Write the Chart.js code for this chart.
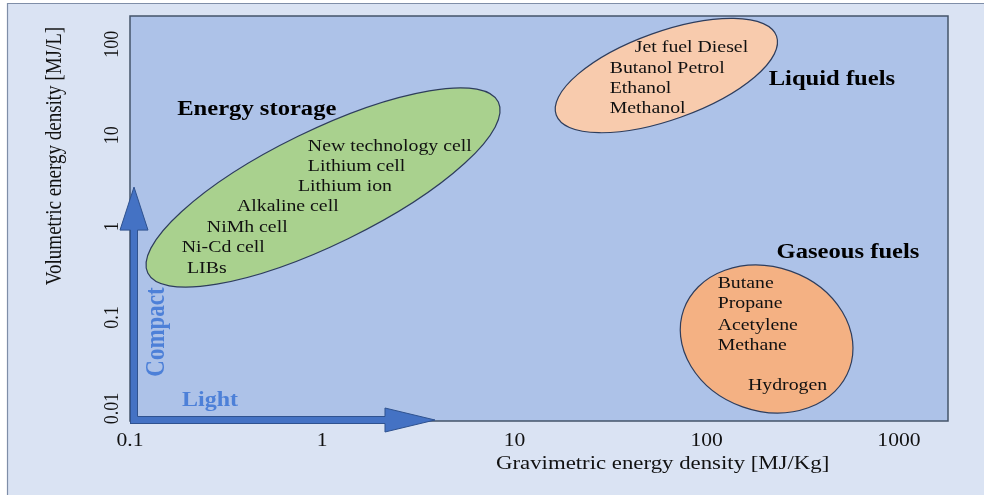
<!DOCTYPE html>
<html>
<head>
<meta charset="utf-8">
<script src="https://cdn.jsdelivr.net/npm/chart.js@4/dist/chart.umd.min.js"></script>
<style>
  html, body { margin: 0; padding: 0; background: #fff; }
  canvas { display: block; }
</style>
</head>
<body>
<canvas id="grafica" width="984" height="495"></canvas>
<script>
// ticks of the two log axes
const xTicks = [0.1, 1, 10, 100, 1000];
const yTicks = [0.01, 0.1, 1, 10, 100];

// groups: title anchor and ellipse centre, [MJ/Kg, MJ/L]
const groupNames = ['Energy storage', 'Liquid fuels', 'Gaseous fuels'];
const groupTitleAt = [[0.176, 18.9], [210, 40.5], [231, 0.514]];
const groupCentre = [[1.01, 2.67], [61.7, 45.3], [205, 0.058]];

// members of each group, anchored at [MJ/Kg, MJ/L]
const storageNames = ['New technology cell', 'Lithium cell', 'Lithium ion', 'Alkaline cell', 'NiMh cell', 'Ni-Cd cell', 'LIBs'];
const storageX = [0.842, 0.842, 0.747, 0.360, 0.251, 0.186, 0.198];
const storageY = [7.49, 4.52, 2.71, 1.63, 0.960, 0.579, 0.340];

const liquidNames = ['Jet fuel Diesel', 'Butanol Petrol', 'Ethanol', 'Methanol'];
const liquidX = [42.3, 31.3, 31.3, 31.3];
const liquidY = [92.5, 54.4, 32.2, 19.4];

const gasNames = ['Butane', 'Propane', 'Acetylene', 'Methane', 'Hydrogen'];
const gasX = [114, 114, 114, 114, 164];
const gasY = [0.233, 0.1405, 0.0812, 0.049, 0.0177];

// drawing styles
const SERIF = '"Liberation Serif", "Times New Roman", serif';
const STRETCH = 1.2;
const ellipseStyle = [
  { rx: 195, ry: 57, rot: -26, fill: '#a9d18e' },
  { rx: 117, ry: 44, rot: -19.7, fill: '#f8cbad' },
  { rx: 88, ry: 72, rot: 19.5, fill: '#f4b183' }
];
const arrowTip = { x: 3.86, y: 2.7 };

function pts(xs, ys) { return xs.map((x, i) => ({ x: x, y: ys[i] })); }

function txt(ctx, s, x, y, font, color, align, rotated) {
  ctx.save();
  ctx.translate(x, y);
  ctx.scale(STRETCH, 1);
  if (rotated) ctx.rotate(-Math.PI / 2);
  ctx.font = font;
  ctx.fillStyle = color;
  ctx.textAlign = align;
  ctx.textBaseline = 'middle';
  ctx.fillText(s, 0, 0);
  ctx.restore();
}

const fondo = {
  id: 'fondo',
  beforeDraw(chart) {
    const { ctx, chartArea: a, width, height } = chart;
    ctx.save();
    ctx.fillStyle = '#fff';
    ctx.fillRect(0, 0, width, height);
    ctx.fillStyle = '#dae3f3';
    ctx.fillRect(7, 3, width - 7, height - 3);
    ctx.strokeStyle = '#7f8ea8';
    ctx.lineWidth = 1.2;
    ctx.beginPath();
    ctx.moveTo(7.5, height); ctx.lineTo(7.5, 3.5); ctx.lineTo(width, 3.5);
    ctx.stroke();
    ctx.fillStyle = '#adc2e8';
    ctx.fillRect(a.left, a.top, a.right - a.left, a.bottom - a.top);
    ctx.restore();
  }
};

const dibujo = {
  id: 'dibujo',
  afterDatasetsDraw(chart) {
    const { ctx, chartArea: a, scales: { x, y } } = chart;
    ctx.save();

    // group ellipses
    groupCentre.forEach((c, i) => {
      const st = ellipseStyle[i];
      ctx.beginPath();
      ctx.ellipse(x.getPixelForValue(c[0]), y.getPixelForValue(c[1]), st.rx, st.ry, st.rot * Math.PI / 180, 0, Math.PI * 2);
      ctx.fillStyle = st.fill;
      ctx.fill();
      ctx.strokeStyle = '#2e3d5c';
      ctx.lineWidth = 1.2;
      ctx.stroke();
    });

    // member names
    chart.data.datasets.forEach((ds, i) => {
      chart.getDatasetMeta(i).data.forEach((p, j) => {
        txt(ctx, ds.names[j], p.x, p.y, '16.5px ' + SERIF, '#111', 'left', false);
      });
    });

    // group titles
    groupNames.forEach((g, i) => {
      txt(ctx, g, x.getPixelForValue(groupTitleAt[i][0]), y.getPixelForValue(groupTitleAt[i][1]), 'bold 20.5px ' + SERIF, '#000', 'left', false);
    });

    // plot border
    ctx.strokeStyle = '#44546a';
    ctx.lineWidth = 1.5;
    ctx.strokeRect(a.left, a.top, a.right - a.left, a.bottom - a.top);

    // Compact / Light arrows along the axes
    const tipY = y.getPixelForValue(arrowTip.y);
    const tipX = x.getPixelForValue(arrowTip.x);
    const cx = a.left + 4, cy = a.bottom - 1;
    ctx.fillStyle = '#4472c4';
    ctx.strokeStyle = '#2f528f';
    ctx.lineWidth = 1;
    ctx.beginPath();
    ctx.moveTo(cx - 3.5, a.bottom + 3);
    ctx.lineTo(cx - 3.5, tipY + 43);
    ctx.lineTo(cx - 14, tipY + 43);
    ctx.lineTo(cx, tipY);
    ctx.lineTo(cx + 14, tipY + 43);
    ctx.lineTo(cx + 3.5, tipY + 43);
    ctx.lineTo(cx + 3.5, cy - 3.5);
    ctx.lineTo(tipX - 50, cy - 3.5);
    ctx.lineTo(tipX - 50, cy - 12);
    ctx.lineTo(tipX, cy);
    ctx.lineTo(tipX - 50, cy + 12);
    ctx.lineTo(tipX - 50, cy + 3.5);
    ctx.lineTo(cx - 3.5, cy + 3.5);
    ctx.closePath();
    ctx.fill();
    ctx.stroke();

    txt(ctx, 'Compact', a.left + 27, a.bottom - 89, 'bold 23px ' + SERIF, '#4d80d8', 'center', true);
    txt(ctx, 'Light', a.left + 52, a.bottom - 20, 'bold 20px ' + SERIF, '#4d80d8', 'left', false);

    // tick labels
    xTicks.forEach(v => {
      txt(ctx, String(v), x.getPixelForValue(v), a.bottom + 20, '18px ' + SERIF, '#111', 'center', false);
    });
    yTicks.forEach(v => {
      txt(ctx, String(v), a.left - 18, y.getPixelForValue(v), '18px ' + SERIF, '#111', 'center', true);
    });

    // axis titles
    txt(ctx, 'Gravimetric energy density [MJ/Kg]', 496, a.bottom + 43, '19px ' + SERIF, '#111', 'left', false);
    txt(ctx, 'Volumetric energy density [MJ/L]', 55, 156, '19px ' + SERIF, '#111', 'center', true);

    ctx.restore();
  }
};

new Chart(document.getElementById('grafica'), {
  type: 'scatter',
  data: {
    datasets: [
      { label: groupNames[0], names: storageNames, data: pts(storageX, storageY) },
      { label: groupNames[1], names: liquidNames, data: pts(liquidX, liquidY) },
      { label: groupNames[2], names: gasNames, data: pts(gasX, gasY) }
    ]
  },
  options: {
    responsive: false,
    animation: false,
    layout: { padding: { left: 130, top: 16, right: 36, bottom: 74 } },
    elements: { point: { radius: 0, hoverRadius: 0 } },
    plugins: { legend: { display: false }, tooltip: { enabled: false } },
    scales: {
      x: { type: 'logarithmic', min: 0.1, max: 1800, display: false },
      y: { type: 'logarithmic', min: 0.0073, max: 204, display: false }
    }
  },
  plugins: [fondo, dibujo]
});
</script>
</body>
</html>
